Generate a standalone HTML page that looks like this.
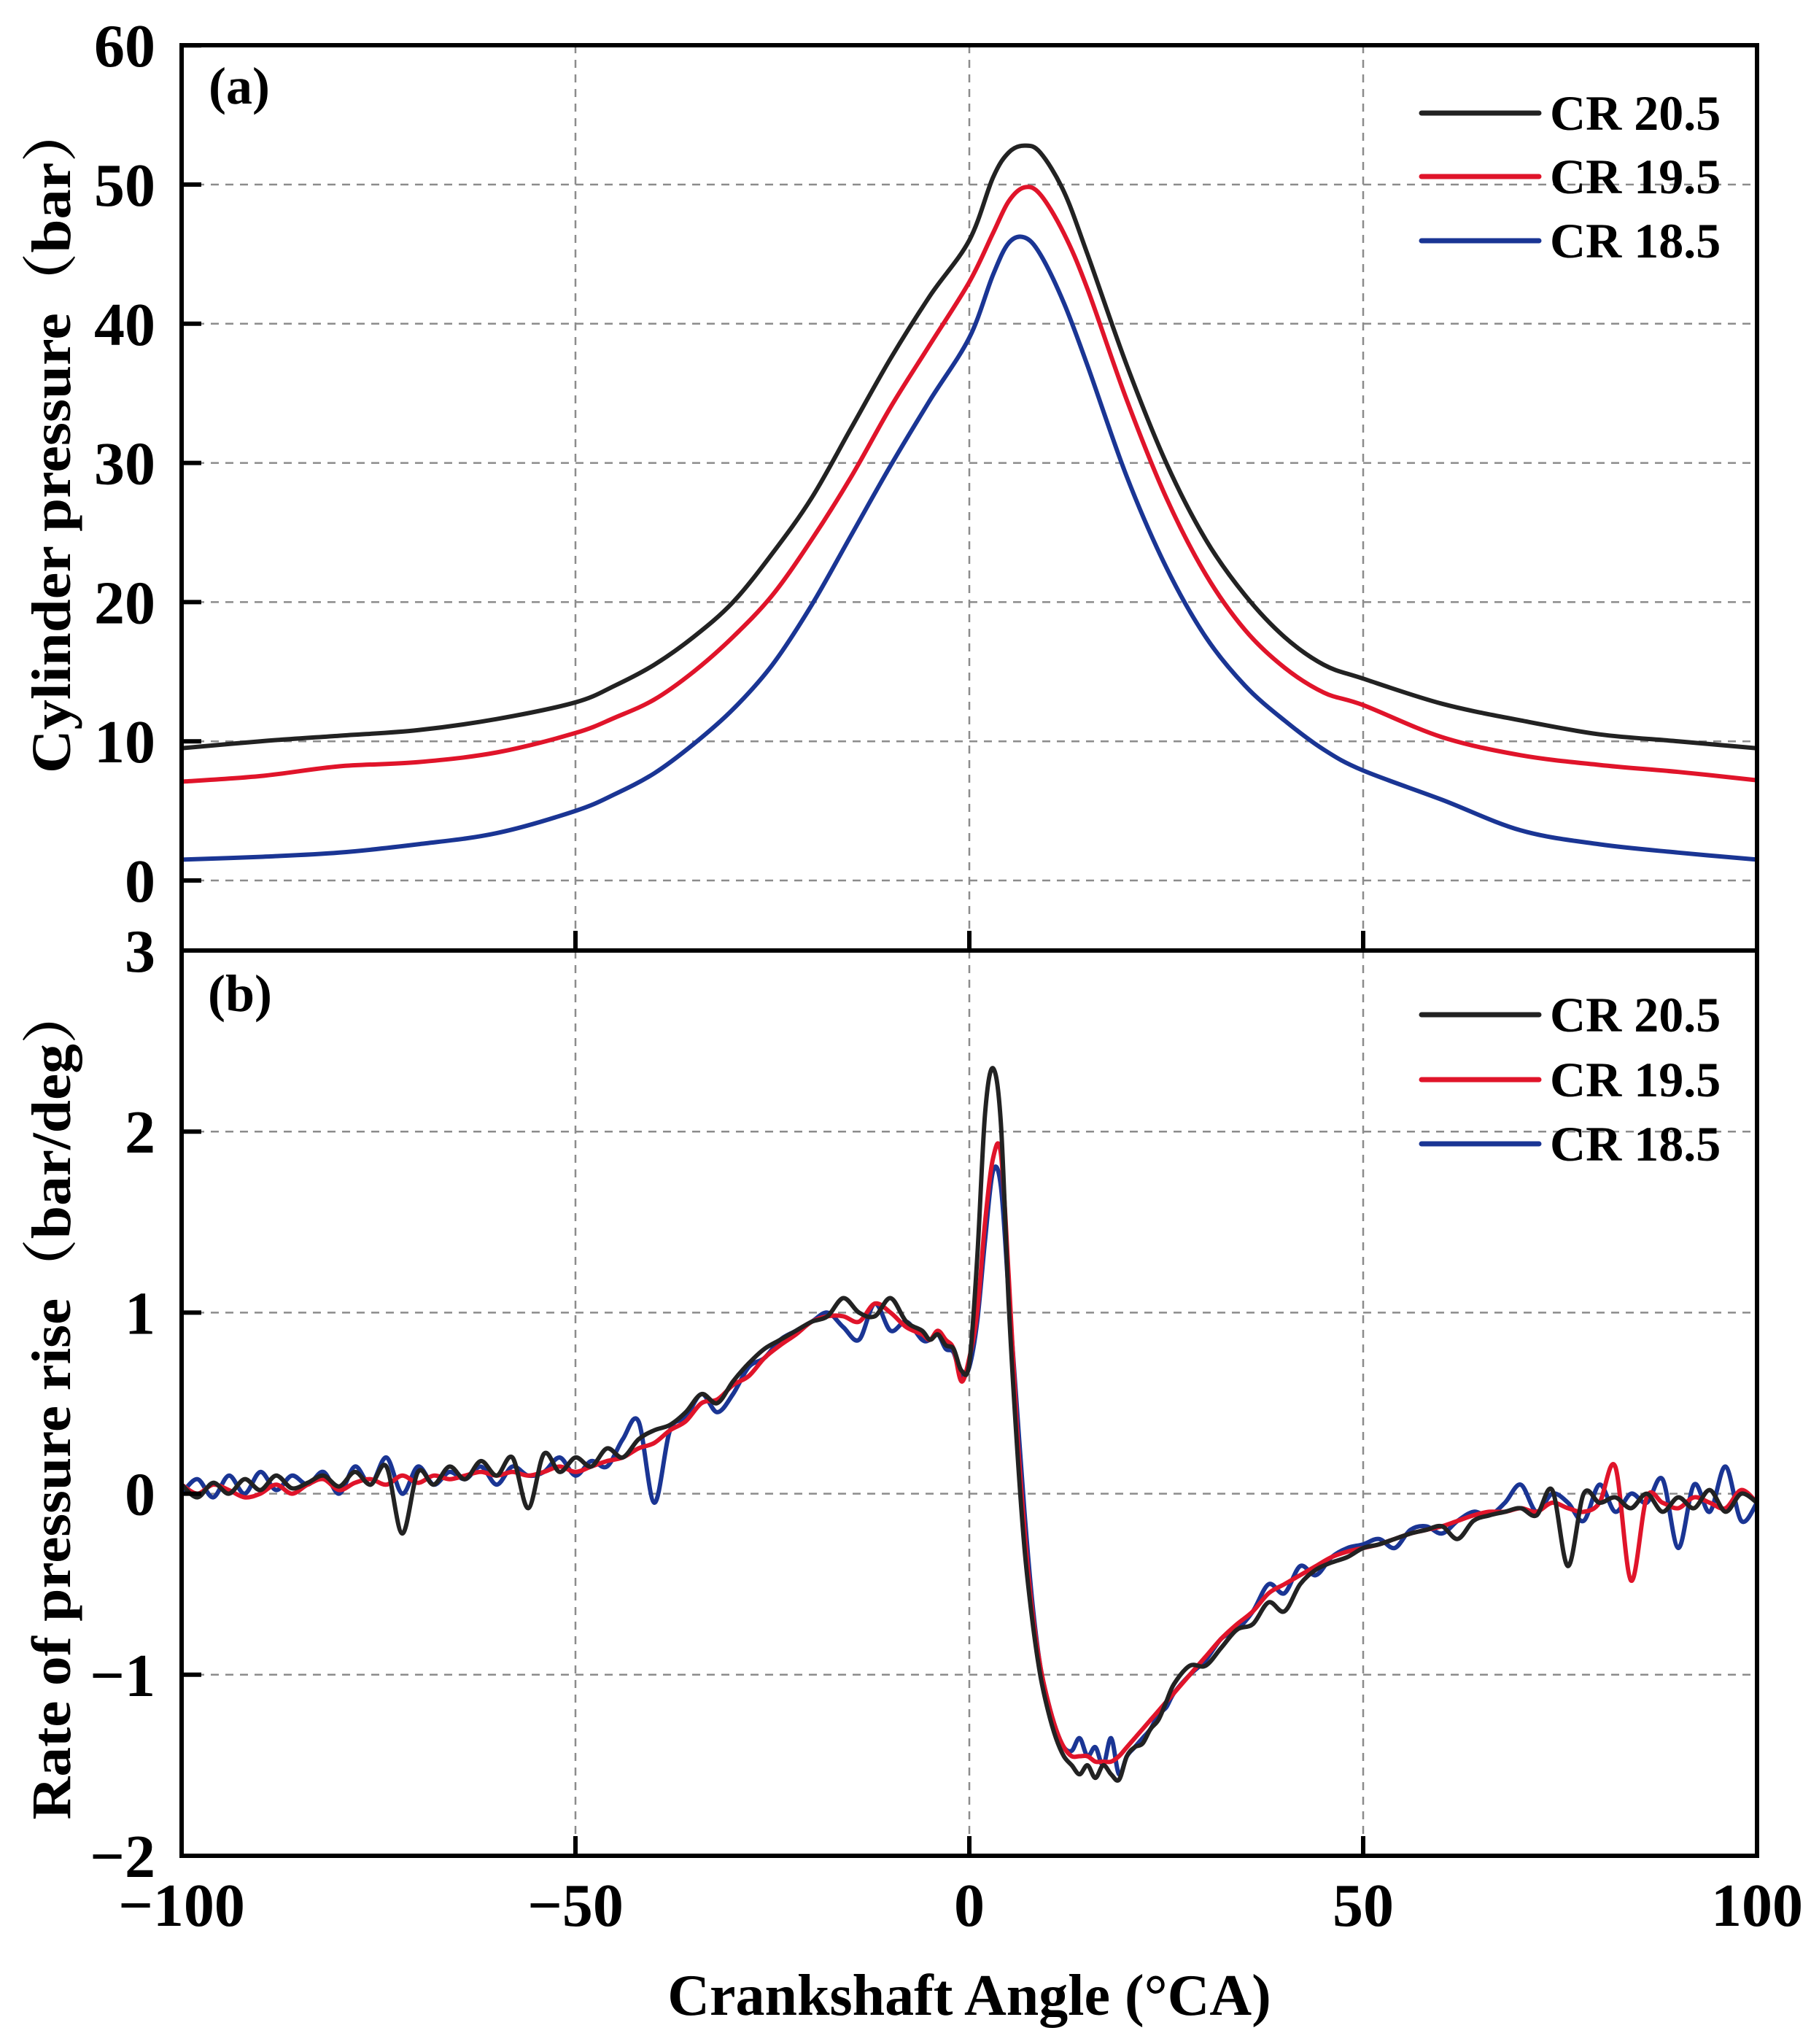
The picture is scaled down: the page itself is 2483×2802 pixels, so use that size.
<!DOCTYPE html>
<html><head><meta charset="utf-8"><style>
html,body{margin:0;padding:0;background:#fff}
svg{display:block}
text{font-family:"Liberation Serif","Noto Serif CJK SC",serif;font-weight:bold;fill:#000}
</style></head><body>
<svg id="chart" width="2483" height="2802" viewBox="0 0 2483 2802" xmlns="http://www.w3.org/2000/svg">
<g id="grid"></g>
<g id="series"></g>
<g id="axes"></g>
<g id="legend"></g>
<text x="286" y="142" font-size="72">(a)</text>
<text x="285" y="1386" font-size="72">(b)</text>
<text x="1329" y="2762" font-size="80" text-anchor="middle">Crankshaft Angle (°CA)</text>
<text transform="translate(96,600) rotate(-90)" font-size="76" text-anchor="middle" textLength="920" lengthAdjust="spacingAndGlyphs">Cylinder pressure（bar）</text>
<text transform="translate(96,1922) rotate(-90)" font-size="76" text-anchor="middle" textLength="1145" lengthAdjust="spacingAndGlyphs">Rate of pressure rise（bar/deg）</text>
</svg>
<script>
const seriesNames = ["CR 20.5","CR 19.5","CR 18.5"];
const seriesColors = ["#222222","#e0142a","#1a3594"];
const pAngles = [-100,-90,-80,-70,-60,-50,-45,-40,-35,-30,-25,-20,-15,-10,-5,0,3,5,7,9,12,15,20,25,30,35,40,45,50,60,70,80,90,100];
const pCR205 = [9.5,10,10.4,10.8,11.6,12.8,14,15.5,17.5,20,23.5,27.5,32.5,37.5,42,46,50.5,52.3,52.8,52.3,49.5,45,37,30,24.5,20.5,17.5,15.5,14.5,12.7,11.5,10.5,10,9.5];
const pCR195 = [7.1,7.5,8.2,8.5,9.2,10.6,11.7,13,15,17.5,20.5,24.5,29,34,38.5,43,46.5,48.8,49.8,49.3,46.5,42.5,34.5,27.5,22,18,15.3,13.5,12.6,10.3,9.0,8.3,7.8,7.2];
const pCR185 = [1.5,1.7,2.0,2.6,3.4,5.0,6.2,7.7,9.8,12.3,15.5,19.8,24.8,29.8,34.5,39,43.5,45.8,46.2,45,41.5,37,29,22.5,17.5,14,11.5,9.4,7.9,5.8,3.6,2.6,2.0,1.5];
const rAngles = [];
for (let a=-100;a<=-6;a+=2) rAngles.push(a);
for (let a=-5;a<=25;a++) rAngles.push(a);
for (let a=26;a<=100;a+=2) rAngles.push(a);
const rCR205 = [0.05,-0.02,0.06,0.0,0.08,0.02,0.1,0.03,0.06,0.1,0.04,0.12,0.05,0.15,-0.22,0.12,0.05,0.15,0.08,0.18,0.1,0.2,-0.08,0.22,0.12,0.2,0.15,0.25,0.2,0.3,0.35,0.38,0.45,0.55,0.5,0.62,0.72,0.8,0.85,0.9,0.95,0.98,1.08,1.0,0.98,1.08,0.95,0.9,
0.85,0.88,0.82,0.8,0.68,0.72,1.3,2.1,2.35,2.05,1.05,0.3,-0.3,-0.7,-1.0,-1.2,-1.35,-1.45,-1.5,-1.55,-1.5,-1.57,-1.5,-1.55,-1.58,-1.45,-1.4,-1.38,-1.3,-1.25,-1.15,
-1.05,-0.95,-0.95,-0.85,-0.75,-0.72,-0.6,-0.65,-0.5,-0.42,-0.38,-0.35,-0.3,-0.28,-0.25,-0.22,-0.2,-0.18,-0.25,-0.15,-0.12,-0.1,-0.08,-0.12,0.02,-0.4,0.0,-0.05,-0.02,-0.08,0.0,-0.1,-0.02,-0.08,0.02,-0.1,0.0,-0.05];
const rCR195 = [0.05,0.0,0.05,0.02,-0.02,0.0,0.05,0.0,0.05,0.08,0.02,0.06,0.08,0.05,0.1,0.06,0.1,0.08,0.1,0.12,0.1,0.12,0.1,0.12,0.15,0.12,0.15,0.18,0.2,0.25,0.28,0.35,0.4,0.5,0.52,0.6,0.65,0.75,0.82,0.88,0.95,0.98,0.98,0.95,1.05,1.0,0.92,0.88,
0.85,0.9,0.85,0.8,0.62,0.75,1.0,1.5,1.85,1.88,1.2,0.4,-0.2,-0.65,-0.95,-1.15,-1.3,-1.4,-1.45,-1.45,-1.45,-1.48,-1.48,-1.48,-1.45,-1.4,-1.35,-1.3,-1.25,-1.2,-1.15,
-1.1,-1.0,-0.9,-0.8,-0.72,-0.65,-0.55,-0.5,-0.45,-0.4,-0.35,-0.32,-0.3,-0.28,-0.25,-0.22,-0.2,-0.18,-0.15,-0.12,-0.1,-0.1,-0.08,-0.1,-0.05,-0.08,-0.1,-0.05,0.15,-0.48,-0.02,-0.05,-0.08,-0.02,-0.05,-0.08,0.02,-0.05];
const rCR185 = [0.0,0.08,-0.02,0.1,0.0,0.12,0.02,0.1,0.05,0.12,0.0,0.15,0.05,0.2,0.0,0.15,0.05,0.12,0.08,0.15,0.05,0.15,0.1,0.12,0.2,0.1,0.18,0.15,0.3,0.4,-0.05,0.35,0.42,0.55,0.45,0.55,0.7,0.75,0.85,0.9,0.95,1.0,0.92,0.85,1.05,0.9,0.95,0.85,
0.85,0.88,0.8,0.78,0.65,0.7,0.95,1.4,1.78,1.7,1.1,0.5,-0.1,-0.6,-0.95,-1.15,-1.3,-1.4,-1.42,-1.35,-1.45,-1.4,-1.5,-1.35,-1.55,-1.45,-1.4,-1.35,-1.3,-1.22,-1.18,
-1.1,-1.0,-0.92,-0.8,-0.75,-0.65,-0.5,-0.55,-0.4,-0.45,-0.35,-0.3,-0.28,-0.25,-0.3,-0.2,-0.18,-0.22,-0.15,-0.1,-0.12,-0.05,0.05,-0.1,0.0,-0.05,-0.15,0.05,-0.1,0.0,-0.05,0.08,-0.3,0.05,-0.1,0.15,-0.15,-0.05];
const xTicks = [-100,-50,0,50,100];
const pTicks = [0,10,20,30,40,50,60];
const rTicks = [-2,-1,0,1,2];

const NS="http://www.w3.org/2000/svg";
const L=249,R=2409,T1=62,B1=1303,T2=1303,B2=2544;
const xs=v=>L+(v+100)/200*(R-L);
const yp=v=>1207-v*19.08;
const yr=v=>B2-(v+2)*(B2-T2)/5;
function mk(tag,attrs,parent){const e=document.createElementNS(NS,tag);for(const k in attrs)e.setAttribute(k,attrs[k]);parent.appendChild(e);return e;}
const grid=document.getElementById('grid'),axes=document.getElementById('axes'),ser=document.getElementById('series'),leg=document.getElementById('legend');
const dash={stroke:"#8c8c8c","stroke-width":2.5,"stroke-dasharray":"11,9",fill:"none"};
[-50,0,50].forEach(v=>{
  let g=mk('line',Object.assign({x1:xs(v),x2:xs(v),y1:T1,y2:B1},dash),grid);
  
  
  g=mk('line',Object.assign({x1:xs(v),x2:xs(v),y1:T2,y2:B2},dash),grid);
  
  
});
pTicks.forEach(v=>{ if(v===60) return;
  const g=mk('line',Object.assign({x1:L,x2:R,y1:yp(v),y2:yp(v)},dash),grid);
  
  
});
rTicks.forEach(v=>{ if(v===-2) return;
  const g=mk('line',Object.assign({x1:L,x2:R,y1:yr(v),y2:yr(v)},dash),grid);
  
  
});
function path(xa,ya,fy,color,name,smooth){
  const P=xa.map((a,i)=>[xs(a),fy(ya[i])]);
  let d='M'+P[0][0].toFixed(1)+','+P[0][1].toFixed(1);
  for(let i=0;i<P.length-1;i++){
    if(!smooth){d+='L'+P[i+1][0].toFixed(1)+','+P[i+1][1].toFixed(1);continue;}
    const p0=P[Math.max(0,i-1)],p1=P[i],p2=P[i+1],p3=P[Math.min(P.length-1,i+2)];
    const c1=[p1[0]+(p2[0]-p0[0])/6,p1[1]+(p2[1]-p0[1])/6],c2=[p2[0]-(p3[0]-p1[0])/6,p2[1]-(p3[1]-p1[1])/6];
    d+='C'+c1[0].toFixed(1)+','+c1[1].toFixed(1)+' '+c2[0].toFixed(1)+','+c2[1].toFixed(1)+' '+p2[0].toFixed(1)+','+p2[1].toFixed(1);
  }
  const p=mk('path',{d:d,stroke:color,"stroke-width":6,fill:"none","stroke-linejoin":"round"},ser);
  
  
}
const rs=[rCR205,rCR195,rCR185],ps=[pCR205,pCR195,pCR185];
[0,1,2].forEach(i=>path(rAngles,rs[2-i],yr,seriesColors[2-i],'rate-line-'+(2-i),true));
[0,1,2].forEach(i=>path(pAngles,ps[i],yp,seriesColors[i],'pressure-line-'+i,true));
[[T1,B1],[T2,B2]].forEach((b,k)=>{
  const f=mk('rect',{x:L,y:b[0],width:R-L,height:b[1]-b[0],fill:"none",stroke:"#000","stroke-width":6},axes);
  
  
});
function tick(x1,y1,x2,y2,name){const t=mk('line',{x1,y1,x2,y2,stroke:"#000","stroke-width":6},axes);
  
  }
function lab(x,y,s,anchor,name){const t=mk('text',{x,y,"font-size":84,"text-anchor":anchor},axes);t.textContent=s;
  
  }
pTicks.forEach(v=>{ tick(L,yp(v),L+27,yp(v),'y-tick-pressure'); lab(213,yp(v)+29,String(v),'end','y-tick-label-pressure');});
lab(213,1303+29,'3','end','y-tick-label-rate-top');
rTicks.forEach(v=>{ tick(L,yr(v),L+27,yr(v),'y-tick-rate'); lab(213,yr(v)+29,v<0?'\u2212'+(-v):String(v),'end','y-tick-label-rate');});
[-50,0,50].forEach(v=>{tick(xs(v),B1,xs(v),B1-27,'x-tick-top');tick(xs(v),B2,xs(v),B2-27,'x-tick-bottom');});
xTicks.forEach(v=>lab(xs(v),2640,v<0?'\u2212'+(-v):String(v),'middle','x-tick-label'));
function legend(ys,prefix){
  seriesNames.forEach((n,i)=>{
    const l=mk('line',{x1:1949,x2:2110,y1:ys[i],y2:ys[i],stroke:seriesColors[i],"stroke-width":7,"stroke-linecap":"round"},leg);
    
    
    const t=mk('text',{x:2125,y:ys[i]+23,"font-size":68},leg);t.textContent=n;
    
    
  });
}
legend([155,242,330],'legend-pressure');
legend([1391,1480,1568],'legend-rate');
</script>
</body></html>
